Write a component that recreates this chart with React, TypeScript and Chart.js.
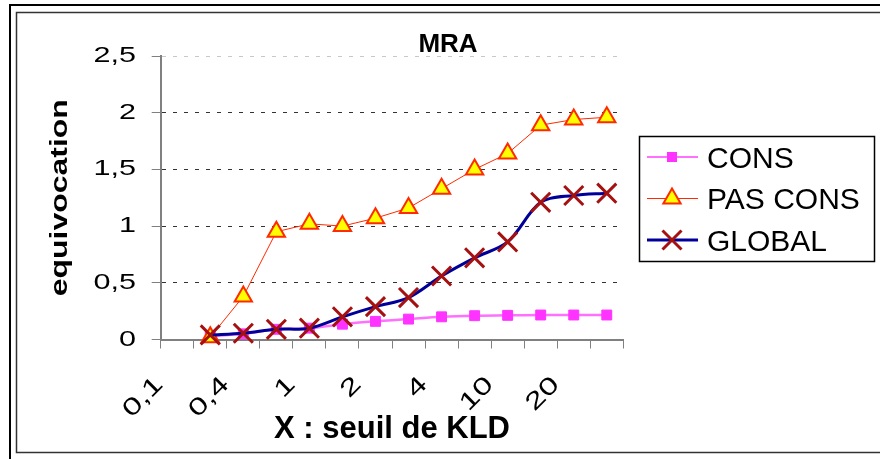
import React, { useEffect, useRef } from "react";
import { Chart, registerables } from "chart.js";

Chart.register(...registerables);

// ---- data ----
const categories = ["0,1", "", "0,4", "", "1", "", "2", "", "4", "", "10", "", "20", ""];
const consValues = [null, 0.03, 0.05, 0.09, 0.1, 0.135, 0.16, 0.18, 0.2, 0.21, 0.213, 0.216, 0.216, 0.216];
const pasConsValues = [null, 0.02, 0.38, 0.95, 1.02, 1.0, 1.07, 1.16, 1.33, 1.5, 1.64, 1.89, 1.94, 1.96];
const globalValues = [null, 0.04, 0.055, 0.09, 0.1, 0.2, 0.29, 0.37, 0.56, 0.72, 0.86, 1.21, 1.27, 1.29];
const yTickValues = [0, 0.5, 1, 1.5, 2, 2.5];
const yTickLabels = ["0", "0,5", "1", "1,5", "2", "2,5"];
const seriesNames = ["CONS", "PAS CONS", "GLOBAL"];
const chartTitle = "MRA";
const xTitle = "X : seuil de KLD";
const yTitle = "equivocation";

const FONT = '"Liberation Sans", Arial, sans-serif';
const STRETCH = 1.39;

const COL_CONS_LINE = "#FF70FF";
const COL_CONS_PT = "#FF33FF";
const COL_PAS = "#FF2A00";
const COL_PAS_FILL = "#FFFF00";
const COL_GLOBAL_LINE = "#000099";
const COL_GLOBAL_PT = "#A51010";

function drawText(
  ctx: CanvasRenderingContext2D,
  text: string,
  x: number,
  y: number,
  angle: number,
  sx: number,
  align: CanvasTextAlign,
  baseline: CanvasTextBaseline,
  font: string
) {
  ctx.save();
  ctx.translate(x, y);
  ctx.rotate(angle);
  ctx.scale(sx, 1);
  ctx.font = font;
  ctx.fillStyle = "#000";
  ctx.textAlign = align;
  ctx.textBaseline = baseline;
  ctx.fillText(text, 0, 0);
  ctx.restore();
}

const decorPlugin = {
  id: "decor",
  beforeDraw(chart: any) {
    const ctx = chart.ctx as CanvasRenderingContext2D;
    ctx.save();
    ctx.fillStyle = "#fff";
    ctx.fillRect(0, 0, chart.width, chart.height);
    ctx.restore();
  },
  afterDraw(chart: any) {
    const ctx = chart.ctx as CanvasRenderingContext2D;
    const xs = chart.scales.x;
    const ys = chart.scales.y;
    const area = chart.chartArea;

    // frames
    ctx.save();
    ctx.strokeStyle = "#000";
    ctx.lineWidth = 2;
    ctx.beginPath();
    ctx.moveTo(10, 470);
    ctx.lineTo(10, 5);
    ctx.lineTo(890, 5);
    ctx.stroke();
    ctx.strokeStyle = "#333";
    ctx.lineWidth = 1.5;
    ctx.strokeRect(16.5, 12.5, 900, 440);
    ctx.restore();

    // title
    drawText(ctx, chartTitle, 448, 52, 0, 1, "center", "alphabetic", `bold 26px ${FONT}`);

    // y tick labels
    yTickValues.forEach((v, i) => {
      const y = ys.getPixelForValue(v);
      drawText(ctx, yTickLabels[i], 136, y, 0, STRETCH, "right", "middle", `22px ${FONT}`);
    });

    // x tick labels
    categories.forEach((c, i) => {
      if (!c) return;
      const x = xs.getPixelForValue(i) - 17.7;
      drawText(ctx, c, x, 381, -Math.PI / 4, STRETCH, "right", "middle", `24px ${FONT}`);
    });

    // axis titles
    drawText(ctx, xTitle, (area.left + area.right) / 2, 438, 0, 1, "center", "alphabetic", `bold 31px ${FONT}`);
    drawText(ctx, yTitle, 67, (area.top + area.bottom) / 2, -Math.PI / 2, STRETCH, "center", "alphabetic", `bold 23px ${FONT}`);

    // legend
    ctx.save();
    ctx.strokeStyle = "#000";
    ctx.lineWidth = 1.5;
    ctx.strokeRect(639.5, 136.5, 235, 125);
    const rows = [157, 198.5, 240];
    const lx1 = 647, lx2 = 698, mx = 672;
    // CONS
    ctx.strokeStyle = COL_CONS_LINE;
    ctx.lineWidth = 2;
    ctx.beginPath(); ctx.moveTo(lx1, rows[0]); ctx.lineTo(lx2, rows[0]); ctx.stroke();
    ctx.fillStyle = COL_CONS_PT;
    ctx.fillRect(mx - 5, rows[0] - 5, 10, 10);
    // PAS CONS
    ctx.strokeStyle = COL_PAS;
    ctx.lineWidth = 1;
    ctx.beginPath(); ctx.moveTo(lx1, rows[1]); ctx.lineTo(lx2, rows[1]); ctx.stroke();
    const r = 10;
    ctx.beginPath();
    ctx.moveTo(mx, rows[1] - r);
    ctx.lineTo(mx + 0.866 * r, rows[1] + 0.5 * r);
    ctx.lineTo(mx - 0.866 * r, rows[1] + 0.5 * r);
    ctx.closePath();
    ctx.fillStyle = COL_PAS_FILL;
    ctx.fill();
    ctx.lineWidth = 2;
    ctx.stroke();
    // GLOBAL
    ctx.strokeStyle = COL_GLOBAL_LINE;
    ctx.lineWidth = 3;
    ctx.beginPath(); ctx.moveTo(lx1, rows[2]); ctx.lineTo(lx2, rows[2]); ctx.stroke();
    ctx.strokeStyle = COL_GLOBAL_PT;
    ctx.lineWidth = 3;
    const h = 9.5;
    ctx.beginPath();
    ctx.moveTo(mx - h, rows[2] - h); ctx.lineTo(mx + h, rows[2] + h);
    ctx.moveTo(mx + h, rows[2] - h); ctx.lineTo(mx - h, rows[2] + h);
    ctx.stroke();
    ctx.restore();
    seriesNames.forEach((n, i) => {
      drawText(ctx, n, 707, rows[i] + 10.5, 0, 1, "left", "alphabetic", `30px ${FONT}`);
    });
  },
};

export default function App() {
  const ref = useRef<HTMLCanvasElement | null>(null);
  useEffect(() => {
    if (!ref.current) return;
    const chart = new Chart(ref.current, {
      type: "line",
      data: {
        labels: categories,
        datasets: [
          {
            label: seriesNames[0],
            data: consValues,
            borderColor: COL_CONS_LINE,
            borderWidth: 2.5,
            backgroundColor: COL_CONS_PT,
            pointStyle: "rect",
            pointRadius: 7,
            pointBackgroundColor: COL_CONS_PT,
            pointBorderColor: COL_CONS_PT,
            pointBorderWidth: 1,
            tension: 0.33,
            clip: false,
            order: 2,
          },
          {
            label: seriesNames[1],
            data: pasConsValues,
            borderColor: COL_PAS,
            borderWidth: 1,
            pointStyle: "triangle",
            pointRadius: 10,
            pointBackgroundColor: COL_PAS_FILL,
            pointBorderColor: COL_PAS,
            pointBorderWidth: 2,
            tension: 0,
            clip: false,
            order: 1,
          },
          {
            label: seriesNames[2],
            data: globalValues,
            borderColor: COL_GLOBAL_LINE,
            borderWidth: 3,
            pointStyle: "crossRot",
            pointRadius: 13.5,
            pointBorderColor: COL_GLOBAL_PT,
            pointBorderWidth: 3,
            tension: 0.33,
            clip: false,
            order: 0,
          },
        ] as any,
      },
      plugins: [decorPlugin],
      options: {
        animation: false,
        responsive: false,
        devicePixelRatio: 1,
        layout: { padding: { left: 120.7, top: 56, right: 256.7, bottom: 0 } },
        plugins: {
          legend: { display: false },
          title: { display: false },
          tooltip: { enabled: false },
        },
        scales: {
          x: {
            type: "category",
            offset: true,
            afterFit: (s: any) => { s.height = 119.5; },
            grid: {
              offset: true,
              drawOnChartArea: false,
              drawTicks: true,
              tickLength: 9,
              color: "#808080",
              tickColor: "#808080",
            },
            border: { color: "#808080", width: 2 },
            ticks: { display: false, autoSkip: false },
          },
          y: {
            min: 0,
            max: 2.5,
            afterFit: (s: any) => { s.width = 40; },
            afterBuildTicks: (s: any) => { s.ticks = yTickValues.map((v) => ({ value: v })); },
            grid: {
              drawTicks: true,
              tickLength: 9,
              color: (c: any) => {
                const v = c.tick ? c.tick.value : 0;
                if (v === 0) return "rgba(0,0,0,0)";
                if (v === 2.5) return "#c8c8c8";
                return "#333333";
              },
              tickColor: "#808080",
              tickBorderDash: [],
            } as any,
            border: { color: "#808080", width: 2, dash: [4, 7] },
            ticks: { display: false },
          },
        },
      } as any,
    });
    return () => chart.destroy();
  }, []);
  return (
    <div style={{ position: "absolute", left: 0, top: 0, width: 880, height: 459 }}>
      <canvas ref={ref} width={880} height={459} />
    </div>
  );
}
